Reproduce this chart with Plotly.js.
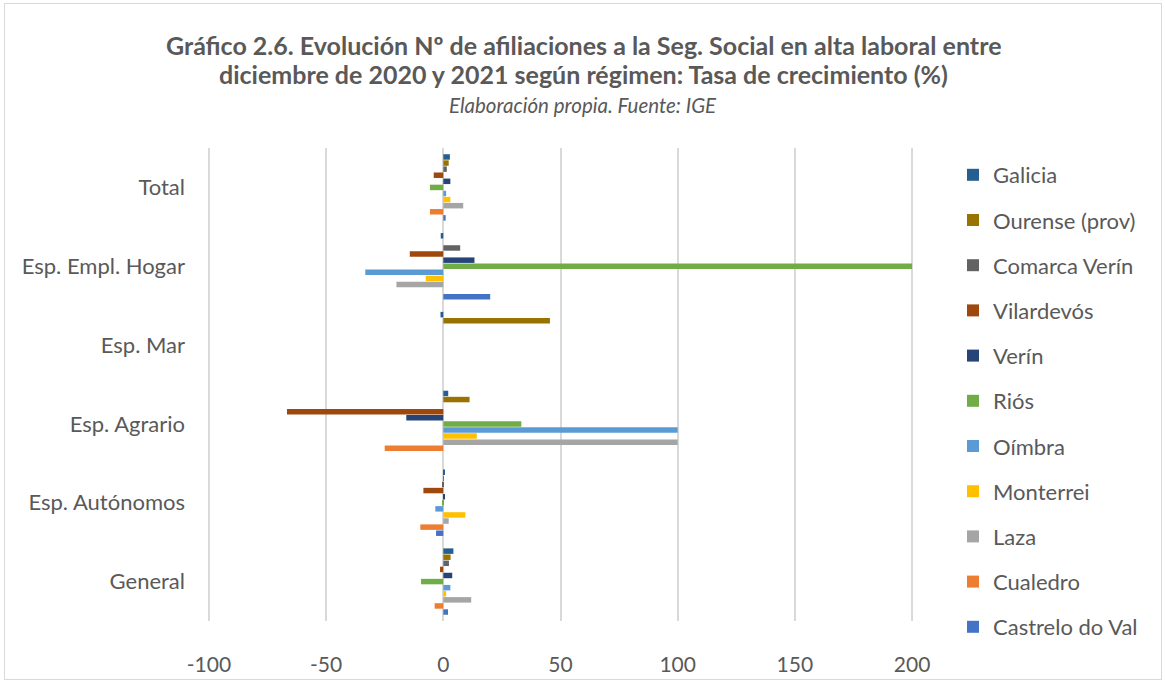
<!DOCTYPE html>
<html>
<head>
<meta charset="utf-8">
<script src="https://cdn.plot.ly/plotly-3.0.1.min.js"></script>
<style>
html,body{margin:0;padding:0;background:#fff;}
#wrap{position:relative;width:1165px;height:682px;}
#chart{width:1165px;height:682px;}
#frame{position:absolute;left:4px;top:3px;width:1156px;height:675px;border:1px solid #d9d9d9;pointer-events:none;}
</style>
</head>
<body>
<div id="wrap"><div id="chart"></div><div id="frame"></div></div>
<script>
// Categories (bottom to top)
const categories = ['General', 'Esp. Autónomos', 'Esp. Agrario', 'Esp. Mar', 'Esp. Empl. Hogar', 'Total'];
const xTicks = [-100, -50, 0, 50, 100, 150, 200];

// Series values, in category order above
const galicia    = [4.3, 0.4, 2.1, -1.2, -1.1, 2.8];
const ourense    = [3.1, 0.2, 11.2, 45.5, 0, 2.3];
const comarca    = [2.4, -0.2, 0, 0, 7.2, 1.5];
const vilardevos = [-1.4, -8.5, -66.7, 0, -14.3, -4.1];
const verin      = [3.8, 0.5, -15.8, 0, 13.3, 3.0];
const rios       = [-9.5, -0.5, 33.3, 0, 200, -5.7];
const oimbra     = [3.0, -3.4, 100, 0, -33.3, 1.2];
const monterrei  = [1.2, 9.4, 14.3, 0, -7.5, 3.0];
const laza       = [11.9, 2.3, 100, 0, -20, 8.5];
const cualedro   = [-3.7, -9.8, -25, 0, 0, -5.7];
const castrelo   = [2.0, -3.1, 0, 0, 20, 1.0];

const seriesNames = ['Galicia', 'Ourense (prov)', 'Comarca Verín', 'Vilardevós', 'Verín', 'Riós', 'Oímbra', 'Monterrei', 'Laza', 'Cualedro', 'Castrelo do Val'];
const seriesValues = [galicia, ourense, comarca, vilardevos, verin, rios, oimbra, monterrei, laza, cualedro, castrelo];
const seriesColors = ['#255e91', '#997300', '#636363', '#9e480e', '#264478', '#70ad47', '#5b9bd5', '#ffc000', '#a5a5a5', '#ed7d31', '#4472c4'];

const FONT = 'Lato, "Open Sans", sans-serif';
const TXT = '#595959';
const GRID = '#d9d9d9';

const traces = [];
for (let i = seriesNames.length - 1; i >= 0; i--) {
  traces.push({
    type: 'bar',
    orientation: 'h',
    name: seriesNames[i],
    y: categories,
    x: seriesValues[i],
    legendgroup: 'g' + i,
    legendrank: i + 1,
    marker: {color: seriesColors[i]},
    hoverinfo: 'x+name'
  });
}

const W = 1165, H = 682;
const L = 208, R = 913, T = 148, B = 621;
const px2x = p => (p - L) / (R - L);
const py2y = p => 1 + (T - p) / (B - T);

// edge gridlines (Plotly hides gridlines on the plot-area border)
const edgeGrid = [xTicks[0], xTicks[xTicks.length - 1]].map(v => ({
  type: 'line', xref: 'x', yref: 'paper', x0: v, x1: v, y0: 0, y1: 1,
  line: {color: GRID, width: 2}, layer: 'below'
}));

const layout = {
  width: W, height: H,
  margin: {l: L, r: W - R, t: T, b: H - B, pad: 0},
  paper_bgcolor: '#ffffff',
  plot_bgcolor: '#ffffff',
  barmode: 'group',
  bargap: 0.15,
  bargroupgap: 0.1,
  font: {family: FONT, color: TXT},
  showlegend: true,
  legend: {
    traceorder: 'grouped',
    x: px2x(953), xanchor: 'left',
    y: py2y(154), yanchor: 'top',
    font: {size: 22, color: TXT, family: FONT},
    tracegroupgap: 13.6,
    maxheight: 600,
    bgcolor: 'rgba(0,0,0,0)'
  },
  xaxis: {
    range: [-100.4, 200.4],
    tickvals: xTicks,
    ticktext: xTicks.map(String),
    showgrid: true,
    gridcolor: GRID,
    gridwidth: 2,
    zeroline: true,
    zerolinecolor: GRID,
    zerolinewidth: 2,
    showline: false,
    ticks: '',
    ticklabelstandoff: 29,
    tickfont: {size: 21, color: TXT, family: FONT},
    fixedrange: true
  },
  yaxis: {
    type: 'category',
    categoryorder: 'array',
    categoryarray: categories,
    showgrid: false,
    zeroline: false,
    showline: false,
    ticks: '',
    ticklabelstandoff: 22,
    tickfont: {size: 22, color: TXT, family: FONT},
    fixedrange: true
  },
  shapes: edgeGrid,
  annotations: [
    {text: '<b>Gráfico 2.6. Evolución Nº de afiliaciones a la Seg. Social en alta laboral entre</b>', xref: 'paper', yref: 'paper', x: px2x(583), y: py2y(45), xanchor: 'center', yanchor: 'middle', showarrow: false, font: {size: 25, color: TXT, family: FONT}},
    {text: '<b>diciembre de 2020 y 2021 según régimen: Tasa de crecimiento (%)</b>', xref: 'paper', yref: 'paper', x: px2x(583), y: py2y(74), xanchor: 'center', yanchor: 'middle', showarrow: false, font: {size: 25, color: TXT, family: FONT}},
    {text: '<i>Elaboración propia. Fuente: IGE</i>', xref: 'paper', yref: 'paper', x: px2x(583), y: py2y(105), xanchor: 'center', yanchor: 'middle', showarrow: false, font: {size: 20.5, color: TXT, family: FONT}}
  ]
};

Plotly.newPlot('chart', traces, layout, {displayModeBar: false, staticPlot: false});
</script>
</body>
</html>
